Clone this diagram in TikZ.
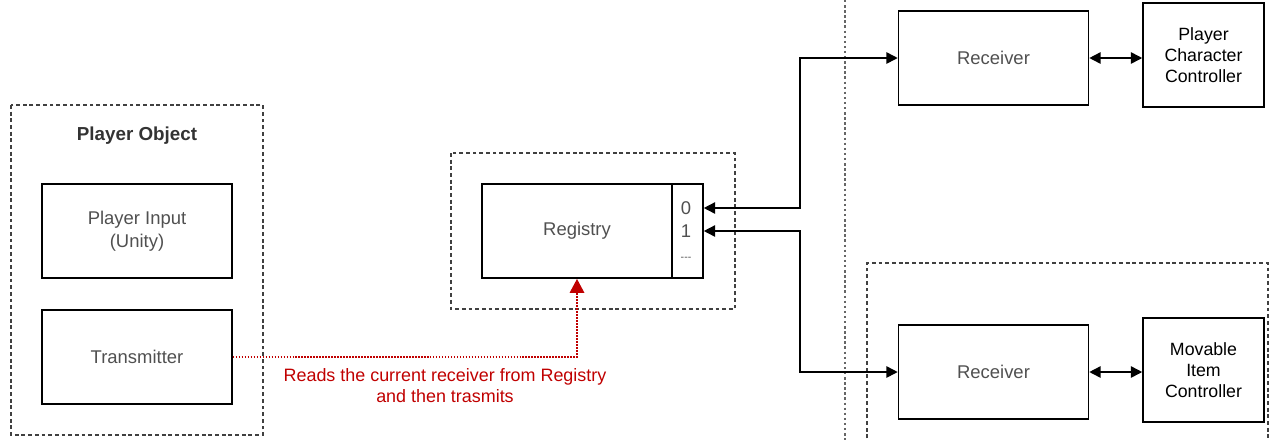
\documentclass[tikz,border=0pt]{standalone}
\usepackage{fontspec}
\setmainfont{Liberation Sans}
\usetikzlibrary{arrows.meta}
\definecolor{boxtext}{HTML}{505050}
\definecolor{readred}{HTML}{C00000}

\begin{document}
\begin{tikzpicture}[
    x=0.02cm, y=-0.02cm,
    block/.style={draw, line width=0.9pt, minimum width=3.8cm, minimum height=1.88cm, inner sep=0pt, align=center, text=boxtext, font={\fontsize{10.5}{13}\selectfont}},
    ctrl/.style={draw, line width=0.9pt, minimum width=2.42cm, minimum height=2.08cm, inner sep=0pt, align=center, font={\fontsize{10.1}{11.9}\selectfont}},
    group/.style={dash pattern=on 2.2pt off 1.6pt, line width=0.75pt, black!75},
    divider/.style={dash pattern=on 1.4pt off 1.5pt, line width=1.2pt, black!60},
    link/.style={line width=0.9pt, {Triangle[length=6.5pt,width=6.5pt]}-{Triangle[length=6.5pt,width=6.5pt]}},
    reads/.style={readred, line width=1.6pt, dash pattern=on 0.9pt off 0.8pt, -{Triangle[length=8pt,width=8pt]}},
    slotnum/.style={text=boxtext, inner sep=0pt, font={\fontsize{10.5}{11}\selectfont}}]

    \useasboundingbox (0,0) rectangle (1273,440);

    % groups
    \draw[group] (11,105) rectangle (263,435);
    \draw[group] (451,153) rectangle (735,309);
    \draw[group] (867,445) -- (867,263) -- (1268,263) -- (1268,445);
    \draw[divider] (845,0) -- (845,440);

    \node[text=black!80, font={\fontsize{10.7}{12}\selectfont\bfseries}] (PlayerObj) at (137,136) {Player Object};

    % player side
    \node[block] (PlayerInput) at (137,231) {Player Input\\(Unity)};
    \node[block] (Transmitter) at (137,357) {Transmitter};

    % registry
    \node[block] (Registry) at (577,231) {Registry};
    \node[draw, line width=0.9pt, minimum width=0.62cm, minimum height=1.88cm, inner sep=0pt] (Slot) at (687.5,231) {};
    \node[slotnum] (SlotZero) at (686,208) {0};
    \node[slotnum] (SlotOne)  at (686,231) {1};
    \node[slotnum, font={\fontsize{6}{7}\selectfont}] (SlotMore) at (686,259) {-{}-{}-};

    % receivers and controllers
    \node[block] (RecTop) at (993.5,58) {Receiver};
    \node[block] (RecBot) at (993.5,372) {Receiver};
    \node[ctrl] (CharCtrl) at (1203.5,55) {Player\\Character\\Controller};
    \node[ctrl] (ItemCtrl) at (1203.5,370) {Movable\\Item\\Controller};

    \coordinate (Bus) at (800,231);

    \draw[link] (SlotZero -| Slot.east) -| (Bus |- RecTop.west) -- (RecTop.west);
    \draw[link] (SlotOne -| Slot.east) -| (Bus |- RecBot.west) -- (RecBot.west);
    \draw[link] (RecTop.east) -- (RecTop.east -| CharCtrl.west);
    \draw[link] (RecBot.east) -- (RecBot.east -| ItemCtrl.west);

    \draw[reads] (Transmitter.east) -| (Registry.south);
    \node[text=readred, align=center, font={\fontsize{10.2}{11.9}\selectfont}] (ReadNote) at (445,386)
        {Reads the current receiver from Registry\\and then trasmits};

\end{tikzpicture}
\end{document}
